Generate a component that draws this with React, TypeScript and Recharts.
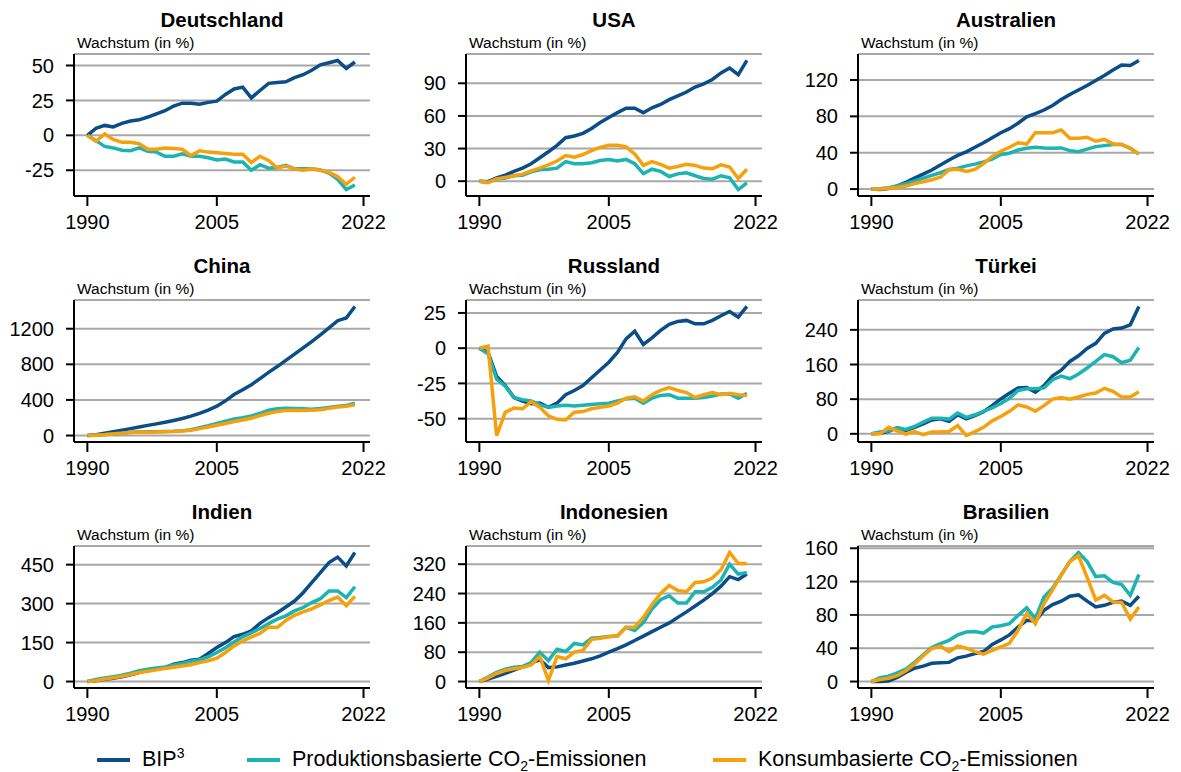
import React from "react";
import { CartesianGrid, Line, LineChart, XAxis, YAxis } from "recharts";

const years = [
  1990, 1991, 1992, 1993, 1994, 1995, 1996, 1997, 1998, 1999, 2000, 2001, 2002, 2003, 2004, 2005,
  2006, 2007, 2008, 2009, 2010, 2011, 2012, 2013, 2014, 2015, 2016, 2017, 2018, 2019, 2020, 2021,
];
const xTicks = [1990, 2005, 2022];

// Wachstum gegenüber 1990 in %
const deBip = [0, 5.1, 7.1, 6.0, 8.6, 10.2, 11.1, 13.1, 15.4, 17.6, 21.0, 23.0, 23.0, 22.2, 23.6, 24.5, 29.3, 33.2, 34.5, 26.8, 32.1, 37.2, 37.8, 38.3, 41.3, 43.4, 46.6, 50.5, 52.0, 53.6, 47.9, 52.5];
const deProd = [0, -3.8, -7.9, -9, -10.7, -11, -9, -11.4, -12, -15, -15, -13.3, -15, -15, -16, -17.6, -17, -19, -19, -25, -21, -23.5, -23, -21.5, -24, -24, -24, -24.8, -27, -31.5, -38.8, -35.5];
const deKons = [0, -4.3, 1, -3, -5, -5, -6, -10, -10, -9, -9.5, -10, -14.5, -11, -12, -12.5, -13, -13.5, -13.5, -19.5, -15, -18, -23.5, -22, -24, -25, -24, -25, -26.5, -29.5, -35, -30];

const usBip = [0, -0.5, 3, 5.5, 9, 12, 16, 21.5, 27, 33, 40, 41.5, 44, 48.5, 54, 58.5, 63, 67, 67, 63, 67.5, 70.5, 75, 78.5, 82, 86.5, 89.5, 93.5, 99.5, 104, 98, 111];
const usProd = [0, -1, 2, 3, 5, 5.5, 8.5, 10.5, 11, 12, 18, 16, 16, 17, 19, 20, 18.5, 20, 16, 7, 11, 9, 4.3, 6.7, 7.7, 5, 2.5, 1.8, 5, 3, -7.7, -1.5];
const usKons = [0, -1.5, 2, 3.5, 5, 6.5, 9.5, 12, 15, 18.5, 23.5, 22, 24.5, 28, 31, 33, 33, 31.5, 25, 14.5, 18, 15.5, 12, 13.5, 15.5, 14.5, 12, 11.5, 15, 13, 2.5, 11];

const auBip = [0, -0.5, 0.5, 3.5, 7.5, 12, 16.5, 21, 26.5, 32, 37, 41, 46, 51, 56.5, 62, 66.5, 72.5, 79.5, 83, 87, 92, 98.5, 104, 109, 114, 119.5, 125, 131, 136.5, 136, 141.5];
const auProd = [0, 0.5, 1.5, 3.5, 6, 9, 12, 15, 18, 21.5, 23, 25.5, 27.5, 30, 33, 38, 39.5, 43, 45, 46, 45.3, 45, 45.3, 42.3, 41.2, 44, 46.7, 47.8, 49, 49, 45, 38.5];
const auKons = [0, 0, 1, 1.8, 3.3, 6, 8, 10.3, 13, 21.3, 21.7, 19.5, 21.7, 28, 36, 41.6, 46, 51, 49.5, 62, 62, 62, 65, 56, 56, 57, 52.6, 54.8, 49.7, 49, 45, 38.6];

const cnBip = [0, 9, 25, 42, 61, 78, 96, 114, 131, 149, 169, 191, 218, 250, 286, 330, 390, 460, 515, 570, 640, 710, 775, 845, 915, 985, 1055, 1130, 1210, 1290, 1320, 1450];
const cnProd = [0, 5, 11, 20, 27, 38, 43, 42, 44, 45, 47, 55, 66, 88, 110, 135, 160, 185, 200, 220, 250, 285, 300, 307, 305, 300, 296, 303, 316, 330, 338, 362];
const cnKons = [0, 4, 10, 18, 25, 35, 40, 38, 40, 42, 45, 52, 60, 78, 97, 115, 135, 158, 175, 195, 224, 250, 269, 280, 283, 282, 285, 290, 305, 320, 330, 345];

const ruBip = [0, -3, -20, -26.5, -35, -37.5, -39.5, -39, -42, -39, -33, -30, -26.5, -21, -15.5, -10, -3, 6.6, 12, 2.6, 7.3, 12.6, 17, 19, 19.7, 17.3, 17.3, 19.7, 23, 26, 22, 29.6];
const ruProd = [0, -4, -22, -27, -35, -36.5, -37.5, -40, -42, -41, -40.5, -41, -40.5, -40, -39.5, -39, -37.5, -36, -35.5, -39, -35.5, -33.5, -33, -35.5, -35.5, -35.5, -35, -34, -32.5, -32.5, -35.5, -32];
const ruKons = [0, 1.5, -62, -45.5, -42.5, -43, -38, -42, -48, -50.5, -51, -45.5, -45, -43, -42, -41, -39, -35.5, -34.5, -37.5, -33, -30, -28, -30, -31.5, -35, -33, -31.5, -33, -32, -33, -33.5];

const trBip = [0, 1, 6, 14, 8, 15, 23, 32, 34.5, 29, 44, 34.5, 42, 51, 65, 80.5, 93.5, 106, 107, 96, 111, 134, 147, 167, 180, 197, 209, 232, 242, 244, 251.5, 294];
const trProd = [0, 4, 7, 14, 10, 17, 27, 36, 36, 34, 48, 38, 44, 52, 60, 70, 82, 100, 104, 104, 106, 125, 133, 127, 138, 152, 167, 183, 178, 164, 170, 199];
const trKons = [0, 0, 15, 7, -1, 5, -2, 4, 4.5, 5.5, 19, -4, 5, 15, 30, 40, 52, 67, 62, 52, 65, 80, 84, 80, 85, 91, 94, 105, 98, 85, 85, 97];

const inBip = [0, 3, 9, 13, 18, 26, 35, 44, 47, 54, 67, 73, 82, 86, 108, 131, 150, 173, 182, 195, 224, 246, 265, 287, 310, 342, 381, 419, 458, 479, 445, 497];
const inProd = [0, 8, 14, 19, 24, 32, 42, 47, 52, 56, 64, 70, 78, 83, 95, 112, 130, 152, 172, 188, 204, 223, 240, 253, 272, 285, 304, 319, 349, 349, 323, 365];
const inKons = [0, 3, 10, 15, 20, 27, 35, 40, 45, 50, 55, 60, 65, 73, 80, 90, 112, 137, 156, 172, 185, 210, 208, 235, 255, 268, 280, 295, 312, 325, 292, 328];

const idBip = [0, 7, 14, 22, 31, 40, 50, 60, 38, 40, 45, 50, 56, 62, 70, 80, 90, 100, 112, 124, 136, 148, 160, 175, 190, 206, 222, 240, 260, 286, 278, 293];
const idProd = [0, 12, 25, 34, 39, 41, 52, 80, 57, 88, 82, 104, 100, 118, 120, 123, 125, 148, 139, 161, 198, 223, 234, 214, 214, 245, 245, 257, 277, 320, 293, 297];
const idKons = [0, 10, 22, 30, 35, 38, 45, 68, 3, 68, 62, 80, 85, 115, 118, 122, 124, 148, 148, 175, 210, 240, 262, 248, 245, 270, 272, 282, 305, 352, 322, 322];

const brBip = [0, 0, 0.5, 5, 11, 16, 18.5, 22, 22.5, 23, 28.5, 30.5, 33.5, 36, 44.5, 50, 56, 65.5, 73.5, 72.5, 85.5, 92.5, 96.5, 102.5, 104, 96.5, 89.5, 91.5, 95, 96.5, 91.5, 102.5];
const brProd = [0, 4.5, 6.5, 10.5, 15, 23, 32, 41, 45.5, 49.5, 56, 59.5, 60, 58, 65.5, 67, 69.5, 79.5, 88.5, 75.5, 101.5, 112, 128, 144, 155, 144, 126, 127, 119, 116.5, 103.5, 128.5];
const brKons = [0, 2.5, 4, 7, 13, 21, 31, 39.5, 42.5, 36, 42.5, 40, 36, 33, 37.5, 41.5, 46, 61.5, 81.5, 69.5, 93.5, 110, 128, 144, 151, 125, 98, 103.5, 95.5, 95, 75, 89.5];

const panels = [
  { title: "Deutschland", yTicks: [-25, 0, 25, 50], bip: deBip, prod: deProd, kons: deKons },
  { title: "USA", yTicks: [0, 30, 60, 90], bip: usBip, prod: usProd, kons: usKons },
  { title: "Australien", yTicks: [0, 40, 80, 120], bip: auBip, prod: auProd, kons: auKons },
  { title: "China", yTicks: [0, 400, 800, 1200], bip: cnBip, prod: cnProd, kons: cnKons },
  { title: "Russland", yTicks: [-50, -25, 0, 25], bip: ruBip, prod: ruProd, kons: ruKons },
  { title: "Türkei", yTicks: [0, 80, 160, 240], bip: trBip, prod: trProd, kons: trKons },
  { title: "Indien", yTicks: [0, 150, 300, 450], bip: inBip, prod: inProd, kons: inKons },
  { title: "Indonesien", yTicks: [0, 80, 160, 240, 320], bip: idBip, prod: idProd, kons: idKons },
  { title: "Brasilien", yTicks: [0, 40, 80, 120, 160], bip: brBip, prod: brProd, kons: brKons },
];

const BLUE = "#0b4d86";
const TEAL = "#1bb4b2";
const ORANGE = "#f6a00c";
const GRID = "#a8a8a8";
const FONT = "'Liberation Sans', Arial, Helvetica, sans-serif";

const colX = [74, 466, 858]; // x of each y-axis line
const rowY = [54, 300, 546]; // top of each plot area
const plotW = 296;
const plotH = 142;
const axisW = 74;
const padTop = 14;

// data range plus 5 % on both sides
const padDomain = (...series: number[][]) => {
  const all = series.flat();
  const lo = Math.min(...all);
  const hi = Math.max(...all);
  const pad = (hi - lo) * 0.05;
  return [lo - pad, hi + pad];
};

const tickStyle = { fill: "#000", fontSize: 20, fontFamily: FONT };
const blackLine = { stroke: "#000", strokeWidth: 2 };

function Panel({ panel, left, top }: any) {
  const data = years.map((year, i) => ({
    year,
    bip: panel.bip[i],
    prod: panel.prod[i],
    kons: panel.kons[i],
  }));
  const yDomain = padDomain(panel.bip, panel.prod, panel.kons);

  return (
    <>
      <div
        style={{
          position: "absolute",
          left,
          top: top - 46,
          width: plotW,
          textAlign: "center",
          fontWeight: 700,
          fontSize: 20.5,
          lineHeight: "24px",
        }}
      >
        {panel.title}
      </div>
      <div style={{ position: "absolute", left: left + 3, top: top - 20, fontSize: 15.5, lineHeight: "18px" }}>
        Wachstum (in %)
      </div>
      <div style={{ position: "absolute", left: left - axisW, top: top - padTop }}>
        <LineChart
          width={axisW + plotW + 30}
          height={padTop + plotH + 40}
          data={data}
          margin={{ top: padTop, right: 30, bottom: 0, left: 0 }}
        >
          <CartesianGrid vertical={false} stroke={GRID} strokeWidth={2} />
          <XAxis
            dataKey="year"
            type="number"
            domain={[1988.45, 2022.75]}
            ticks={xTicks}
            interval={0}
            height={40}
            tickSize={10}
            tickMargin={9}
            axisLine={blackLine}
            tickLine={blackLine}
            tick={tickStyle}
          />
          <YAxis
            type="number"
            domain={yDomain}
            ticks={panel.yTicks}
            interval={0}
            width={axisW}
            tickSize={8}
            tickMargin={12}
            axisLine={blackLine}
            tickLine={blackLine}
            tick={tickStyle}
          />
          <Line dataKey="bip" stroke={BLUE} strokeWidth={3.5} dot={false} isAnimationActive={false} />
          <Line dataKey="prod" stroke={TEAL} strokeWidth={3.5} dot={false} isAnimationActive={false} />
          <Line dataKey="kons" stroke={ORANGE} strokeWidth={3.5} dot={false} isAnimationActive={false} />
        </LineChart>
      </div>
    </>
  );
}

const supStyle = { fontSize: 14, position: "relative" as const, top: -8 };
const subStyle = { fontSize: 14, position: "relative" as const, top: 5 };

const legendItems = [
  { color: BLUE, x: 97, label: <>BIP<span style={supStyle}>3</span></> },
  { color: TEAL, x: 247, label: <>Produktionsbasierte CO<span style={subStyle}>2</span>-Emissionen</> },
  { color: ORANGE, x: 713, label: <>Konsumbasierte CO<span style={subStyle}>2</span>-Emissionen</> },
];

export default function App() {
  return (
    <div
      style={{
        position: "absolute",
        left: 0,
        top: 0,
        width: 1181,
        height: 772,
        background: "#fff",
        fontFamily: FONT,
        color: "#000",
      }}
    >
      {panels.map((p, i) => (
        <Panel key={p.title} panel={p} left={colX[i % 3]} top={rowY[Math.floor(i / 3)]} />
      ))}
      {legendItems.map((item, i) => (
        <div key={i} style={{ position: "absolute", left: item.x, top: 744, display: "flex", alignItems: "center" }}>
          <div style={{ width: 33, height: 4, background: item.color, marginRight: 12 }} />
          <div style={{ fontSize: 21.5, lineHeight: "30px", whiteSpace: "nowrap" }}>{item.label}</div>
        </div>
      ))}
    </div>
  );
}
